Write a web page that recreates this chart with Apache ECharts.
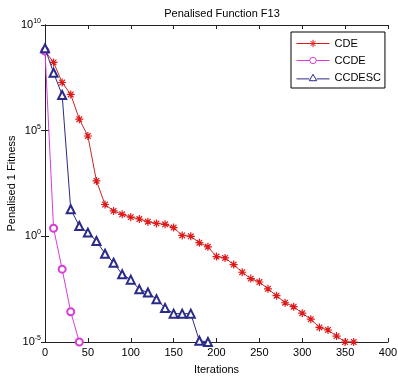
<!DOCTYPE html>
<html>
<head>
<meta charset="utf-8">
<script src="https://cdn.jsdelivr.net/npm/echarts@6/dist/echarts.min.js"></script>
<style>html,body{margin:0;padding:0;background:#fff;}#c{width:398px;height:378px;}</style>
</head>
<body>
<div id="c"></div>
<script>
const titleText = 'Penalised Function F13';
const xName = 'Iterations';
const yName = 'Penalised 1 Fitness';
const seriesNames = ['CDE', 'CCDE', 'CCDESC'];

const cdeIter = [0,10,20,30,40,50,60,70,80,90,100,110,120,130,140,150,160,170,180,190,200,210,220,230,240,250,260,270,280,290,300,310,320,330,340,350,360];
const cdeVals = [5.9e8,1.7e8,1.9e7,5.2e6,3.5e5,5.6e4,420,32,16,11,8.1,6.6,4.9,4.1,3.7,2.6,1.1,1.0,0.5,0.32,0.11,0.095,0.046,0.02,0.010,0.0069,0.0033,0.00155,7.2e-4,4.7e-4,2.3e-4,1.2e-4,4.9e-5,3.7e-5,1.9e-5,1e-5,1e-5];

const ccdeIter = [0,10,20,30,40];
const ccdeVals = [5.9e8,2.4,0.028,2.7e-4,1e-5];

const ccdescIter = [0,10,20,30,40,50,60,70,80,90,100,110,120,130,140,150,160,170,180,190];
const ccdescVals = [8e8,5.5e7,4.9e6,19,3.1,1.5,0.6,0.15,0.056,0.016,0.0089,0.0031,0.0022,0.00105,4.1e-4,2.2e-4,2.2e-4,2.2e-4,1.15e-5,1e-5];

const xTicks = [0,50,100,150,200,250,300,350,400];
const yTickExps = [-5,0,5,10];

function pairs(xs, ys){ return xs.map((x,i)=>[x, ys[i]]); }

const chart = echarts.init(document.getElementById('c'));
const FONT = 'Liberation Sans';
const star = 'path://M0,-5L0,5M-5,0L5,0M-3.5,-3.5L3.5,3.5M-3.5,3.5L3.5,-3.5';

const cdeColor = '#e01818', cdeLine = '#c42a2a';
const ccdeColor = '#d83cd8';
const ccdescColor = '#2a2a8a';

const legendIcons = {
  CDE: 'path://M0,5L36,5M18,1L18,9M14,5L22,5M15.2,2.2L20.8,7.8M15.2,7.8L20.8,2.2',
  CCDE: 'path://M0,5L14.5,5M21.5,5L36,5M21.5,5A3.5,3.5 0 1 1 14.5,5A3.5,3.5 0 1 1 21.5,5Z',
  CCDESC: 'path://M0,6L14,6M22,6L36,6M18,1L22,8L14,8Z'
};
const legendColors = {CDE: cdeColor, CCDE: ccdeColor, CCDESC: ccdescColor};

const axisCommon = {
  axisLine: {lineStyle: {color: '#222', width: 1}},
  axisTick: {inside: true, length: 4, lineStyle: {color: '#222'}},
  splitLine: {show: false}
};

chart.setOption({
  animation: false,
  backgroundColor: '#fff',
  textStyle: {fontFamily: FONT},
  title: {
    text: titleText, left: 217, top: 3, textAlign: 'center',
    textStyle: {fontSize: 11, fontWeight: 'normal', color: '#000', fontFamily: FONT}
  },
  grid: {left: 45, right: 10, top: 25, bottom: 36, outerBoundsMode: 'none', containLabel: false},
  legend: {
    orient: 'vertical', left: 291, top: 32,
    backgroundColor: '#fff', borderColor: '#000', borderWidth: 1,
    padding: [6, 4, 5, 5], itemWidth: 33, itemHeight: 8, itemGap: 6,
    textStyle: {fontSize: 11, color: '#000', fontFamily: FONT},
    data: seriesNames.map(n => ({
      name: n, icon: legendIcons[n],
      itemStyle: {color: '#fff', borderColor: legendColors[n], borderWidth: 1}
    }))
  },
  xAxis: [
    Object.assign({
      type: 'value', min: 0, max: 400, interval: 50, position: 'bottom',
      name: xName, nameLocation: 'middle', nameGap: 22, nameMoveOverlap: false,
      nameTextStyle: {fontSize: 11, color: '#000', fontFamily: FONT},
      axisLabel: {fontSize: 11, color: '#000', margin: 5, fontFamily: FONT,
        formatter: v => xTicks.indexOf(v) >= 0 ? String(v) : ''}
    }, axisCommon),
    Object.assign({
      type: 'value', min: 0, max: 400, interval: 50, position: 'top',
      axisLabel: {show: false}
    }, axisCommon)
  ],
  yAxis: [
    Object.assign({
      type: 'log', logBase: 10, min: 1e-5, max: 1e10, interval: 5, position: 'left',
      name: yName, nameLocation: 'middle', nameGap: 28, nameMoveOverlap: false,
      nameTextStyle: {fontSize: 11, color: '#000', fontFamily: FONT},
      axisLabel: {
        margin: 4, fontFamily: FONT,
        formatter: v => {
          const e = Math.round(Math.log10(v));
          return yTickExps.indexOf(e) >= 0 ? '{b|10}{s|' + e + '}' : '';
        },
        rich: {
          b: {fontSize: 11, color: '#000', fontFamily: FONT},
          s: {fontSize: 7, color: '#000', fontFamily: FONT, padding: [0, 0, 8, 0]}
        }
      }
    }, axisCommon),
    Object.assign({
      type: 'log', logBase: 10, min: 1e-5, max: 1e10, interval: 5, position: 'right',
      axisLabel: {show: false}
    }, axisCommon)
  ],
  series: [
    {
      name: 'CDE', type: 'line', data: pairs(cdeIter, cdeVals),
      symbol: star, symbolSize: 8,
      lineStyle: {color: cdeLine, width: 1},
      itemStyle: {color: cdeColor, borderColor: cdeColor, borderWidth: 1.2},
      z: 3
    },
    {
      name: 'CCDE', type: 'line', data: pairs(ccdeIter, ccdeVals),
      symbol: 'emptyCircle', symbolSize: 7,
      lineStyle: {color: ccdeColor, width: 1},
      itemStyle: {color: ccdeColor, borderColor: ccdeColor, borderWidth: 1},
      z: 4
    },
    {
      name: 'CCDESC', type: 'line', data: pairs(ccdescIter, ccdescVals),
      symbol: 'emptyTriangle', symbolSize: 8,
      lineStyle: {color: ccdescColor, width: 1},
      itemStyle: {color: ccdescColor, borderColor: ccdescColor, borderWidth: 1},
      z: 5
    }
  ]
});
</script>
</body>
</html>
